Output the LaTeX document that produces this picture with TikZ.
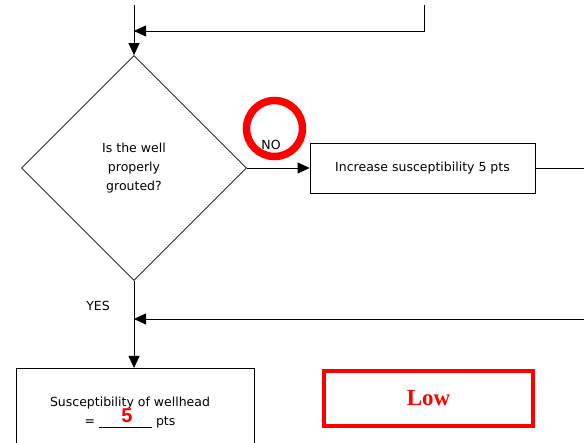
\documentclass[tikz,border=0pt]{standalone}
\usepackage{fontspec}
\setmainfont{DejaVu Sans}
\newfontfamily\lowfont{Liberation Serif}
\newfontfamily\numfont{Liberation Sans}
\usetikzlibrary{arrows.meta,shapes.geometric}
\begin{document}
\begin{tikzpicture}[x=1pt,y=-1pt,
  every node/.style={font=\fontsize{12.5}{19}\selectfont},
  line/.style={draw, line width=0.8pt},
  arr/.style={line, -{Triangle[length=12pt,width=11pt]}},
  box/.style={draw, line width=0.8pt, inner sep=0pt},
  lbl/.style={inner sep=0pt}
]
\useasboundingbox (0,0) rectangle (584,443);
\clip (0,0) rectangle (584,443);
% top connectors
\coordinate (t1) at (134,5);
\coordinate (t2) at (424,5);
\coordinate (j1) at (134,31);
% decision
\node[box, diamond, minimum width=225pt, minimum height=225pt, align=center] (q) at (134,168) {Is the well\\properly\\grouted?};
\draw[line] (t2) |- (j1);
\draw[arr] (t2 |- j1) -- (j1);
\draw[arr] (t1) -- (q.north);
% NO branch
\node[box, minimum width=225pt, minimum height=50pt] (inc) at (422.5,168) {Increase susceptibility 5 pts};
\draw[arr] (q.east) -- (inc.west);
\coordinate (r1) at (584,168);
\draw[line] (inc.east) -- (r1);
\node[draw=red, circle, line width=7.5pt, minimum size=56pt, inner sep=0pt] (circ) at (274.5,128.5) {};
\node[lbl] (no) at (271,145) {NO};
% YES branch
\node[lbl] (yes) at (98,306) {YES};
\coordinate (r2) at (584,319);
\coordinate (j2) at (134,319);
\draw[arr] (r2) -- (j2);
\node[box, anchor=north, minimum width=238pt, minimum height=110pt] (wh) at (135,368) {};
\draw[arr] (q.south) -- (q.south |- wh.north);
\node[lbl, align=center] (whtxt) at (130,413) {Susceptibility of wellhead\\= \rule[-1.5pt]{53pt}{0.6pt} pts};
\node[lbl, text=red, font=\numfont\bfseries\fontsize{20}{20}\selectfont] (five) at (127,416) {5};
% result
\node[draw=red, line width=3.5pt, minimum width=209pt, minimum height=55pt, inner sep=0pt, text=red, font=\lowfont\bfseries\fontsize{23}{23}\selectfont] (low) at (428.5,398.5) {Low};
\end{tikzpicture}
\end{document}
